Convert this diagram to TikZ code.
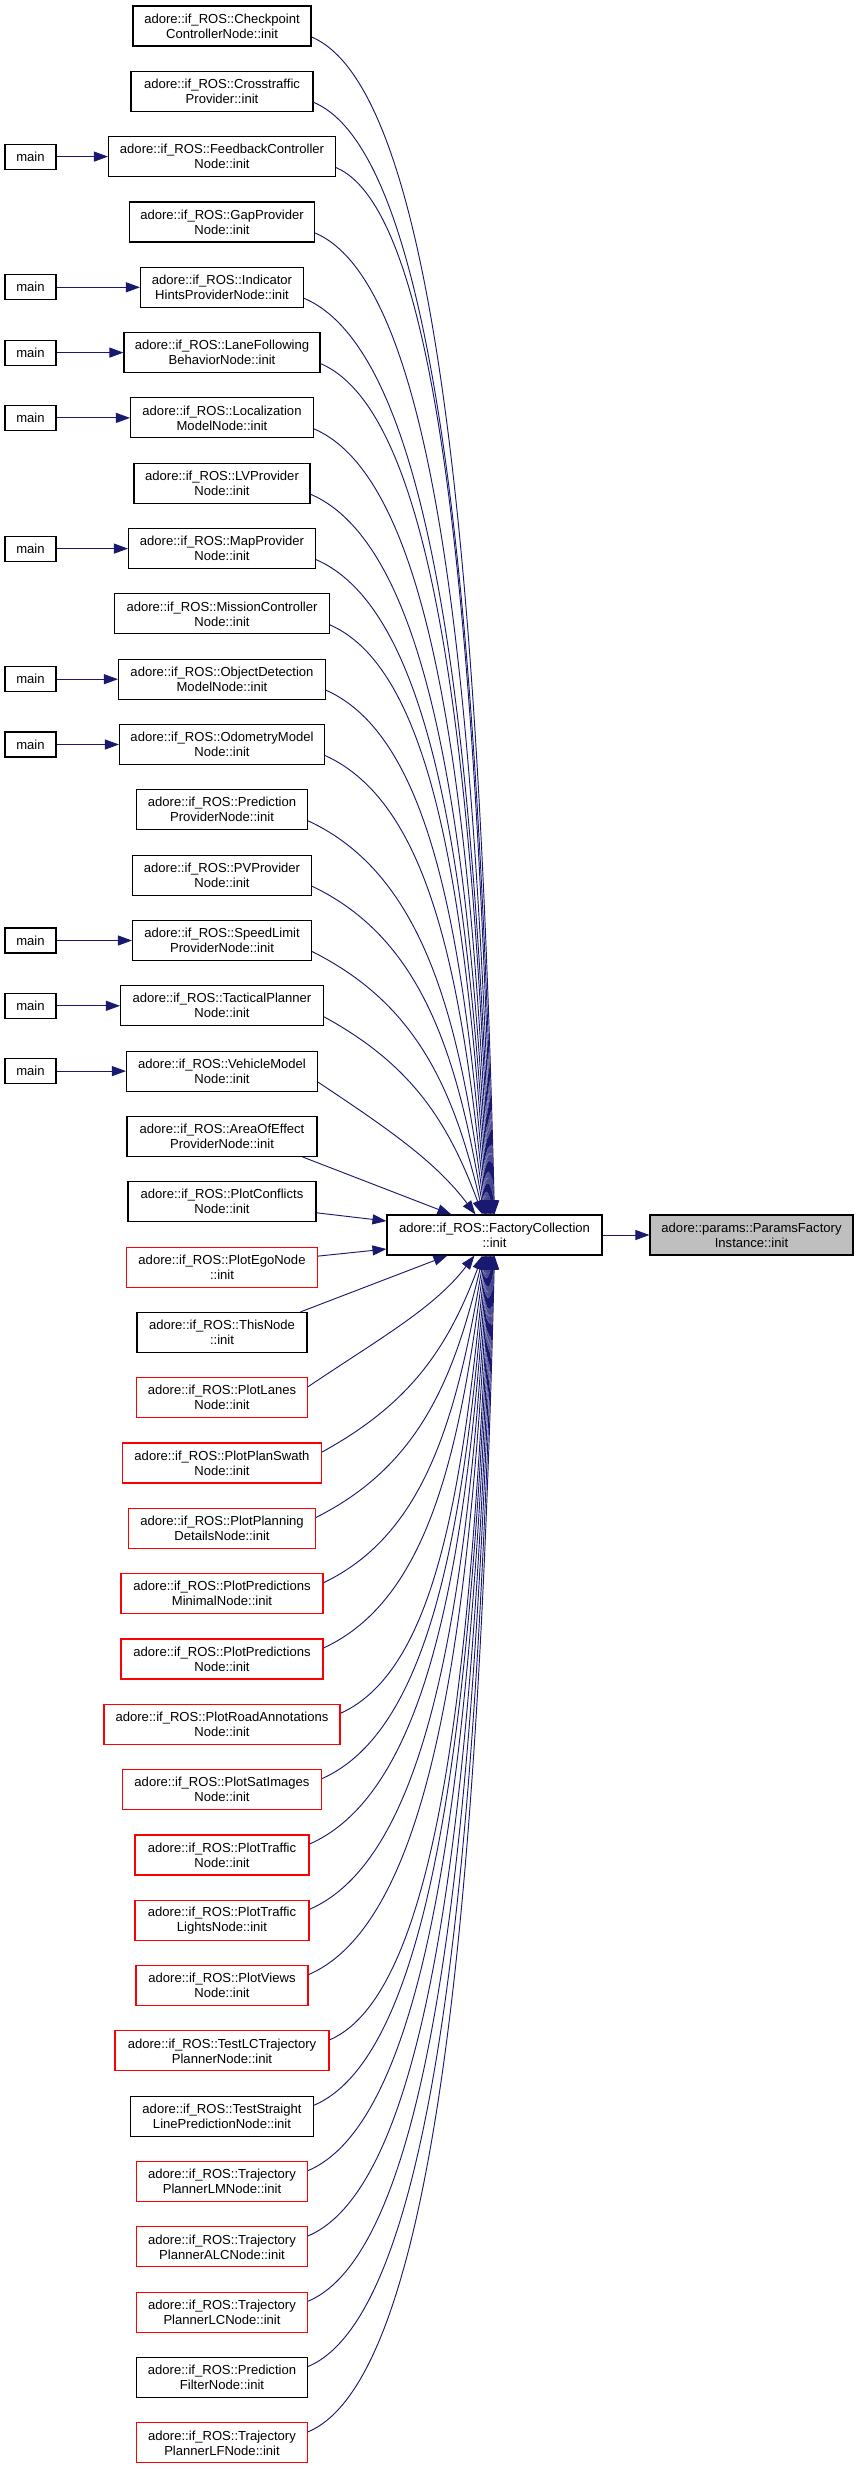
\documentclass[tikz,border=0pt]{standalone}
\usepackage{fontspec}
\setmainfont{Liberation Sans}
\usetikzlibrary{arrows.meta,calc}
\definecolor{edgec}{HTML}{191970}
\definecolor{pgray}{HTML}{BFBFBF}
\tikzset{
  box/.style={draw=black, fill=white, line width=0.8pt, inner sep=0pt, minimum height=30pt, align=center, font=\fontsize{9.8pt}{11.25pt}\selectfont},
  lbox/.style={box, minimum width=#1*0.75pt},
  rbox/.style={box, draw=red, minimum width=#1*0.75pt},
  mainbox/.style={box, minimum width=38.25pt, minimum height=18.75pt},
  calledge/.style={draw=edgec, line width=0.7pt, -{Triangle[length=10.5pt,width=7.5pt]}},
}
\begin{document}
\begin{tikzpicture}[x=0.75pt, y=-0.75pt]
\path[fill=white] (0,0) rectangle (859,2469);
\useasboundingbox (0,0) rectangle (859,2469);

% left column
\node[lbox=178] (L0) at (222,26.0) {adore::if\_ROS::Checkpoint\\ControllerNode::init};
\node[lbox=182] (L1) at (222,91.3) {adore::if\_ROS::Crosstraffic\\Provider::init};
\node[lbox=227] (L2) at (222,156.6) {adore::if\_ROS::FeedbackController\\Node::init};
\node[lbox=185] (L3) at (222,222.0) {adore::if\_ROS::GapProvider\\Node::init};
\node[lbox=163] (L4) at (222,287.3) {adore::if\_ROS::Indicator\\HintsProviderNode::init};
\node[lbox=196] (L5) at (222,352.6) {adore::if\_ROS::LaneFollowing\\BehaviorNode::init};
\node[lbox=183] (L6) at (222,417.9) {adore::if\_ROS::Localization\\ModelNode::init};
\node[lbox=176] (L7) at (222,483.2) {adore::if\_ROS::LVProvider\\Node::init};
\node[lbox=187] (L8) at (222,548.6) {adore::if\_ROS::MapProvider\\Node::init};
\node[lbox=215] (L9) at (222,613.9) {adore::if\_ROS::MissionController\\Node::init};
\node[lbox=207] (L10) at (222,679.2) {adore::if\_ROS::ObjectDetection\\ModelNode::init};
\node[lbox=205] (L11) at (222,744.5) {adore::if\_ROS::OdometryModel\\Node::init};
\node[lbox=171] (L12) at (222,809.8) {adore::if\_ROS::Prediction\\ProviderNode::init};
\node[lbox=179] (L13) at (222,875.2) {adore::if\_ROS::PVProvider\\Node::init};
\node[lbox=179] (L14) at (222,940.5) {adore::if\_ROS::SpeedLimit\\ProviderNode::init};
\node[lbox=203] (L15) at (222,1005.8) {adore::if\_ROS::TacticalPlanner\\Node::init};
\node[lbox=191] (L16) at (222,1071.1) {adore::if\_ROS::VehicleModel\\Node::init};
\node[lbox=190] (L17) at (222,1136.4) {adore::if\_ROS::AreaOfEffect\\ProviderNode::init};
\node[lbox=188] (L18) at (222,1201.8) {adore::if\_ROS::PlotConflicts\\Node::init};
\node[rbox=191] (L19) at (222,1267.1) {adore::if\_ROS::PlotEgoNode\\::init};
\node[lbox=170] (L20) at (222,1332.4) {adore::if\_ROS::ThisNode\\::init};
\node[rbox=171] (L21) at (222,1397.7) {adore::if\_ROS::PlotLanes\\Node::init};
\node[rbox=199] (L22) at (222,1463.0) {adore::if\_ROS::PlotPlanSwath\\Node::init};
\node[rbox=187] (L23) at (222,1528.4) {adore::if\_ROS::PlotPlanning\\DetailsNode::init};
\node[rbox=202] (L24) at (222,1593.7) {adore::if\_ROS::PlotPredictions\\MinimalNode::init};
\node[rbox=202] (L25) at (222,1659.0) {adore::if\_ROS::PlotPredictions\\Node::init};
\node[rbox=236] (L26) at (222,1724.3) {adore::if\_ROS::PlotRoadAnnotations\\Node::init};
\node[rbox=199] (L27) at (222,1789.6) {adore::if\_ROS::PlotSatImages\\Node::init};
\node[rbox=174] (L28) at (222,1855.0) {adore::if\_ROS::PlotTraffic\\Node::init};
\node[rbox=174] (L29) at (222,1920.3) {adore::if\_ROS::PlotTraffic\\LightsNode::init};
\node[rbox=172] (L30) at (222,1985.6) {adore::if\_ROS::PlotViews\\Node::init};
\node[rbox=214] (L31) at (222,2050.9) {adore::if\_ROS::TestLCTrajectory\\PlannerNode::init};
\node[lbox=183] (L32) at (222,2116.2) {adore::if\_ROS::TestStraight\\LinePredictionNode::init};
\node[rbox=171] (L33) at (222,2181.6) {adore::if\_ROS::Trajectory\\PlannerLMNode::init};
\node[rbox=171] (L34) at (222,2246.9) {adore::if\_ROS::Trajectory\\PlannerALCNode::init};
\node[rbox=171] (L35) at (222,2312.2) {adore::if\_ROS::Trajectory\\PlannerLCNode::init};
\node[lbox=171] (L36) at (222,2377.5) {adore::if\_ROS::Prediction\\FilterNode::init};
\node[rbox=171] (L37) at (222,2442.8) {adore::if\_ROS::Trajectory\\PlannerLFNode::init};

% main callers
\foreach \i/\yy in {2/156.6,4/287.3,5/352.6,6/417.9,8/548.6,10/679.2,11/744.5,14/940.5,15/1005.8,16/1071.1}{
  \node[mainbox] (m\i) at (30.5,\yy) {main};
  \draw[calledge] (m\i) -- (L\i);
}

% central nodes
\node[box, minimum width=215*0.75pt] (fc) at (494.5,1235) {adore::if\_ROS::FactoryCollection\\::init};
\node[box, fill=pgray, minimum width=203*0.75pt] (pp) at (751.5,1235) {adore::params::ParamsFactory\\Instance::init};
\draw[calledge] (fc) -- (pp);

% upper group of curves
\foreach \i/\w/\hx in {0/178/495,1/182/494.2,2/227/493.4,3/185/492.6,4/163/491.8,5/196/491,6/183/490.2,7/176/489.4,8/187/488.6,9/215/487.8,10/207/487,11/205/486.2,12/171/485.4,13/179/484.6,14/179/483.8,15/203/483,16/191/476}{
  \pgfmathsetmacro\tx{222+\w/2}
  \pgfmathsetmacro\ty{37+65.32*\i}
  \pgfmathsetmacro\mydx{\hx-\tx}
  \pgfmathsetmacro\myd{1215-\ty}
  \pgfmathsetmacro\myphi{37*(133/\myd)^1.5}
  \pgfmathsetmacro\ka{0.75-0.3*133/\myd}
  \pgfmathsetmacro\cax{\ka*\mydx}
  \pgfmathsetmacro\cay{0.3*\mydx}
  \pgfmathsetmacro\cbx{-0.5*\myd*sin(\myphi)}
  \pgfmathsetmacro\cby{-0.5*\myd*cos(\myphi)}
  \draw[calledge] ($(L\i.east)+(0,11)$) .. controls +(\cax,\cay) and +(\cbx,\cby) .. ($(fc.north west)+(\hx-387,0)$);
}

% lower group of curves
\foreach \i/\w/\hx in {21/171/475,22/199/483,23/187/483.8,24/202/484.6,25/202/485.4,26/236/486.2,27/199/487,28/174/487.8,29/174/488.6,30/172/489.4,31/214/490.2,32/183/491,33/171/491.8,34/171/492.6,35/171/493.4,36/171/494.2,37/171/495}{
  \pgfmathsetmacro\tx{222+\w/2}
  \pgfmathsetmacro\ty{15+65.32*\i}
  \pgfmathsetmacro\mydx{\hx-\tx}
  \pgfmathsetmacro\myd{\ty-1255}
  \pgfmathsetmacro\myphi{37*(133/\myd)^1.5}
  \pgfmathsetmacro\ka{0.75-0.3*133/\myd}
  \pgfmathsetmacro\cax{\ka*\mydx}
  \pgfmathsetmacro\cay{-0.3*\mydx}
  \pgfmathsetmacro\cbx{-0.5*\myd*sin(\myphi)}
  \pgfmathsetmacro\cby{0.5*\myd*cos(\myphi)}
  \draw[calledge] ($(L\i.east)+(0,-11)$) .. controls +(\cax,\cay) and +(\cbx,\cby) .. ($(fc.south west)+(\hx-387,0)$);
}

% near, nearly straight edges
\draw[calledge] ($(L17.south east)+(-15,0)$) -- ($(fc.north west)+(65,0)$);
\draw[calledge] ($(L18.east)+(0,11)$) -- ($(fc.west)+(0,-14)$);
\draw[calledge] ($(L19.east)+(0,-11)$) -- ($(fc.west)+(0,14)$);
\draw[calledge] ($(L20.north east)+(-7,0)$) -- ($(fc.south west)+(61,0)$);
\end{tikzpicture}
\end{document}
